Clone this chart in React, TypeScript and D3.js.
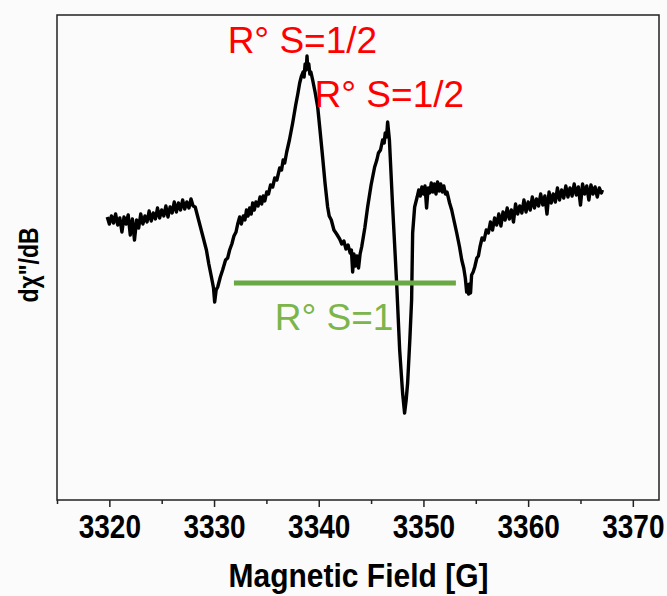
import React, { useRef, useEffect } from 'react';
import * as d3 from 'd3';

// EPR spectrum (field in G, signal in arb. units)
const field = [
  3319.8, 3320.0, 3320.2, 3320.4, 3320.6, 3320.8, 3321.0, 3321.2, 3321.4, 3321.6,
  3321.8, 3322.0, 3322.2, 3322.4, 3322.6, 3322.8, 3323.0, 3323.2, 3323.4, 3323.6,
  3323.8, 3324.0, 3324.2, 3324.4, 3324.6, 3324.8, 3325.0, 3325.2, 3325.4, 3325.6,
  3325.8, 3326.0, 3326.2, 3326.4, 3326.6, 3326.8, 3327.0, 3327.2, 3327.4, 3327.6,
  3327.8, 3328.0, 3328.2, 3328.6, 3328.95, 3329.27, 3329.5, 3329.75, 3329.95, 3330.06,
  3330.2, 3330.35, 3330.6, 3330.82, 3331.1, 3331.3, 3331.49, 3331.7, 3331.9, 3332.1,
  3332.26, 3332.45, 3332.6, 3332.8, 3332.95, 3333.1, 3333.25, 3333.4, 3333.55, 3333.69,
  3333.85, 3334.0, 3334.2, 3334.4, 3334.55, 3334.7, 3334.85, 3335.03, 3335.2, 3335.4,
  3335.6, 3335.8, 3336.0, 3336.27, 3336.45, 3336.6, 3336.75, 3336.94, 3337.2, 3337.51,
  3337.8, 3338.0, 3338.18, 3338.35, 3338.5, 3338.6, 3338.7, 3338.8, 3338.88, 3338.95,
  3339.05, 3339.15, 3339.25, 3339.42, 3339.65, 3339.9, 3340.1, 3340.37, 3340.6, 3340.85,
  3341.0, 3341.2, 3341.45, 3341.71, 3342.0, 3342.2, 3342.4, 3342.6, 3342.8, 3343.0,
  3343.12, 3343.24, 3343.36, 3343.5, 3343.65, 3343.8, 3343.95, 3344.1, 3344.4, 3344.67,
  3345.0, 3345.34, 3345.55, 3345.7, 3345.9, 3346.1, 3346.25, 3346.35, 3346.48, 3346.58,
  3346.75, 3347.06, 3347.44, 3347.73, 3348.01, 3348.2, 3348.35, 3348.49, 3348.7, 3348.87,
  3348.97, 3349.16, 3349.4, 3349.55, 3349.7, 3349.85, 3350.0, 3350.15, 3350.3, 3350.45,
  3350.6, 3350.75, 3350.9, 3351.05, 3351.2, 3351.35, 3351.5, 3351.65, 3351.8, 3351.95,
  3352.1, 3352.25, 3352.5, 3352.7, 3352.95, 3353.18, 3353.45, 3353.66, 3353.85, 3354.0,
  3354.13, 3354.23, 3354.32, 3354.4, 3354.5, 3354.6, 3354.75, 3354.9, 3355.1, 3355.25,
  3355.4, 3355.6, 3355.8, 3356.0, 3356.2, 3356.4, 3356.6, 3356.8, 3357.0, 3357.2,
  3357.4, 3357.6, 3357.8, 3358.0, 3358.2, 3358.4, 3358.6, 3358.8, 3359.0, 3359.2,
  3359.4, 3359.6, 3359.8, 3360.0, 3360.2, 3360.4, 3360.6, 3360.8, 3361.0, 3361.2,
  3361.4, 3361.6, 3361.8, 3362.0, 3362.2, 3362.4, 3362.6, 3362.8, 3363.0, 3363.2,
  3363.4, 3363.6, 3363.8, 3364.0, 3364.2, 3364.4, 3364.6, 3364.8, 3365.0, 3365.2,
  3365.4, 3365.6, 3365.8, 3366.0, 3366.2, 3366.4, 3366.6, 3366.8, 3367.0, 3367.1
];
const signal = [
  0.63, 0.56, 0.64, 0.57, 0.66, 0.55, 0.62, 0.48, 0.63, 0.56,
  0.65, 0.45, 0.61, 0.40, 0.60, 0.52, 0.66, 0.56, 0.64, 0.58,
  0.69, 0.59, 0.67, 0.61, 0.72, 0.62, 0.70, 0.64, 0.74, 0.63,
  0.73, 0.67, 0.78, 0.68, 0.77, 0.70, 0.80, 0.71, 0.78, 0.72,
  0.81, 0.74, 0.73, 0.57, 0.43, 0.30, 0.16, 0.03, -0.08, -0.22,
  -0.10, -0.07, 0.03, 0.10, 0.20, 0.22, 0.30, 0.36, 0.44, 0.48,
  0.56, 0.63, 0.56, 0.64, 0.60, 0.70, 0.64, 0.72, 0.66, 0.77,
  0.70, 0.78, 0.74, 0.83, 0.76, 0.84, 0.79, 0.88, 0.86, 0.95,
  0.93, 1.02, 1.00, 1.12, 1.10, 1.20, 1.17, 1.28, 1.40, 1.57,
  1.75, 1.86, 1.97, 2.04, 2.08, 2.03, 2.16, 2.10, 2.24, 2.12,
  2.16, 2.06, 2.08, 2.00, 1.88, 1.73, 1.52, 1.23, 0.97, 0.73,
  0.64, 0.60, 0.50, 0.46, 0.41, 0.36, 0.39, 0.31, 0.35, 0.27,
  0.30, 0.08, 0.26, 0.14, 0.24, 0.12, 0.26, 0.33, 0.52, 0.73,
  0.95, 1.13, 1.20, 1.27, 1.30, 1.40, 1.37, 1.47, 1.43, 1.58,
  1.40, 0.73, -0.03, -0.70, -1.13, -1.33, -1.20, -1.03, -0.60, -0.20,
  0.47, 0.73, 0.83, 0.90, 0.84, 0.93, 0.86, 0.94, 0.72, 0.92,
  0.87, 0.97, 0.88, 0.96, 0.86, 0.98, 0.89, 0.96, 0.88, 0.94,
  0.86, 0.88, 0.77, 0.70, 0.58, 0.47, 0.33, 0.20, 0.12, 0.02,
  -0.12, -0.05, -0.14, -0.04, -0.13, 0.05, 0.08, 0.13, 0.22, 0.24,
  0.33, 0.42, 0.40, 0.50, 0.47, 0.58, 0.50, 0.62, 0.55, 0.66,
  0.54, 0.68, 0.60, 0.72, 0.61, 0.70, 0.58, 0.76, 0.66, 0.74,
  0.67, 0.80, 0.68, 0.78, 0.70, 0.83, 0.72, 0.81, 0.74, 0.86,
  0.75, 0.84, 0.66, 0.88, 0.77, 0.86, 0.78, 0.92, 0.80, 0.90,
  0.82, 0.94, 0.83, 0.92, 0.84, 0.96, 0.85, 0.93, 0.75, 0.96,
  0.86, 0.94, 0.80, 0.95, 0.86, 0.93, 0.83, 0.92, 0.87, 0.90
];

const xTicks = [3320, 3330, 3340, 3350, 3360, 3370];
const xMinorTicks = [3315, 3325, 3335, 3345, 3355, 3365];

// S=1 span marker and labels (anchors in data units)
const spanField = [3331.9, 3353.1];
const spanLevel = -0.03;
const labels = [
  { text: 'R° S=1/2', x: 3331.3, y: 2.27, color: '#ff0000' },
  { text: 'R° S=1/2', x: 3339.6, y: 1.73, color: '#ff0000' },
  { text: 'R° S=1', x: 3335.8, y: -0.5, color: '#7cb54a' },
];

const W = 667;
const H = 596;
const margin = { top: 15, right: 8, bottom: 96, left: 57 };
const FONT = '"Liberation Sans", Arial, sans-serif';

const App = () => {
  const svgRef = useRef<SVGSVGElement>(null);

  useEffect(() => {
    const svg = d3.select(svgRef.current);
    svg.selectAll('*').remove();

    const iw = W - margin.left - margin.right;
    const ih = H - margin.top - margin.bottom;

    const x = d3.scaleLinear().domain([3315, 3372.5]).range([0, iw]);
    const y = d3.scaleLinear().domain([-2.2, 2.65]).range([ih, 0]);

    svg.append('rect').attr('width', W).attr('height', H).attr('fill', '#fbfbfb');

    const g = svg.append('g')
      .attr('transform', 'translate(' + margin.left + ',' + margin.top + ')');

    // minor ticks
    g.append('g')
      .attr('transform', 'translate(0,' + ih + ')')
      .call(d3.axisBottom(x).tickValues(xMinorTicks).tickSize(4).tickFormat(() => ''))
      .call(a => a.select('.domain').remove())
      .selectAll('line').attr('stroke', '#222').attr('stroke-width', 1.5);

    // major ticks, labels a bit stretched vertically like the original
    const ax = g.append('g')
      .attr('transform', 'translate(0,' + ih + ')')
      .call(d3.axisBottom(x).tickValues(xTicks).tickSize(7).tickFormat(d3.format('d')));
    ax.select('.domain').remove();
    ax.selectAll('line').attr('stroke', '#222').attr('stroke-width', 1.5);
    ax.selectAll('text')
      .attr('y', 0)
      .attr('dy', 0)
      .attr('transform', 'translate(0,38) scale(1,1.17)')
      .attr('fill', '#000')
      .style('font-family', FONT)
      .style('font-weight', 'bold')
      .style('font-size', '28px');

    // frame
    g.append('rect')
      .attr('width', iw).attr('height', ih)
      .attr('fill', 'none').attr('stroke', '#222').attr('stroke-width', 1.5);

    const pts = field.map((f, i) => [f, signal[i]] as [number, number]);
    const line = d3.line<[number, number]>()
      .x(d => x(d[0]))
      .y(d => y(d[1]));

    g.append('path')
      .attr('d', line(pts))
      .attr('fill', 'none')
      .attr('stroke', '#000')
      .attr('stroke-width', 3.4)
      .attr('stroke-linejoin', 'round');

    g.append('line')
      .attr('x1', x(spanField[0])).attr('x2', x(spanField[1]))
      .attr('y1', y(spanLevel)).attr('y2', y(spanLevel))
      .attr('stroke', '#6aa843').attr('stroke-width', 5);

    g.selectAll('.note')
      .data(labels)
      .enter()
      .append('text')
        .attr('class', 'note')
        .attr('x', d => x(d.x))
        .attr('y', d => y(d.y))
        .attr('fill', d => d.color)
        .style('font-family', FONT)
        .style('font-size', '37px')
        .text(d => d.text);

    svg.append('text')
      .attr('transform', 'translate(' + (margin.left + iw / 2 + 0.5) + ',587) scale(1,1.12)')
      .attr('text-anchor', 'middle')
      .style('font-family', FONT)
      .style('font-weight', 'bold')
      .style('font-size', '30px')
      .text('Magnetic Field [G]');

    svg.append('text')
      .attr('transform', 'translate(38,265) rotate(-90) scale(1,1.2)')
      .attr('text-anchor', 'middle')
      .style('font-family', FONT)
      .style('font-weight', 'bold')
      .style('font-size', '23px')
      .text('dχ"/dB');
  }, [svgRef]);

  return (
    <svg ref={svgRef} width={W} height={H}
      style={{ position: 'absolute', left: 0, top: 0, display: 'block' }} />
  );
};

export default App;
